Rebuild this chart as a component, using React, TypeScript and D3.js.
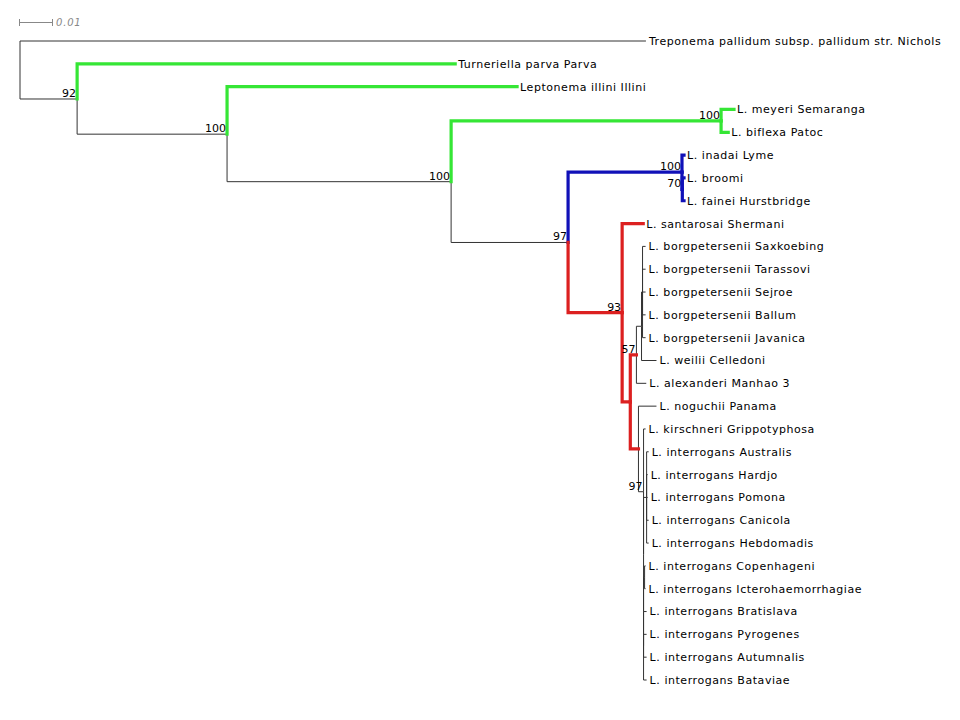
import React from 'react';
import * as d3 from 'd3';

// Leaf order (top to bottom)
const taxa = [
  'Treponema pallidum subsp. pallidum str. Nichols',
  'Turneriella parva Parva',
  'Leptonema illini Illini',
  'L. meyeri Semaranga',
  'L. biflexa Patoc',
  'L. inadai Lyme',
  'L. broomi',
  'L. fainei Hurstbridge',
  'L. santarosai Shermani',
  'L. borgpetersenii Saxkoebing',
  'L. borgpetersenii Tarassovi',
  'L. borgpetersenii Sejroe',
  'L. borgpetersenii Ballum',
  'L. borgpetersenii Javanica',
  'L. weilii Celledoni',
  'L. alexanderi Manhao 3',
  'L. noguchii Panama',
  'L. kirschneri Grippotyphosa',
  'L. interrogans Australis',
  'L. interrogans Hardjo',
  'L. interrogans Pomona',
  'L. interrogans Canicola',
  'L. interrogans Hebdomadis',
  'L. interrogans Copenhageni',
  'L. interrogans Icterohaemorrhagiae',
  'L. interrogans Bratislava',
  'L. interrogans Pyrogenes',
  'L. interrogans Autumnalis',
  'L. interrogans Bataviae',
];

// [node, parent, branch length (substitutions/site)]
const edges: [string, string, number][] = [
  [taxa[0], 'root', 0.1841],
  ['n92', 'root', 0.0168],
  [taxa[1], 'n92', 0.1112],
  ['n100a', 'n92', 0.0441],
  [taxa[2], 'n100a', 0.0853],
  ['n100b', 'n100a', 0.0659],
  ['n100c', 'n100b', 0.0794],
  [taxa[3], 'n100c', 0.0038],
  [taxa[4], 'n100c', 0.0021],
  ['n97a', 'n100b', 0.0344],
  ['n100d', 'n97a', 0.0335],
  [taxa[5], 'n100d', 0.0006],
  ['n70', 'n100d', 0.0001],
  [taxa[6], 'n70', 0.0005],
  [taxa[7], 'n70', 0.0005],
  ['n93', 'n97a', 0.0159],
  [taxa[8], 'n93', 0.0062],
  ['nX', 'n93', 0.0024],
  ['n57', 'nX', 0.0018],
  ['nB', 'n57', 0.0015],
  ['nBp', 'nB', 0.0003],
  [taxa[9], 'nBp', 0.0009],
  [taxa[10], 'nBp', 0.0009],
  [taxa[11], 'nBp', 0.0009],
  [taxa[12], 'nBp', 0.0009],
  [taxa[13], 'nBp', 0.0009],
  [taxa[14], 'nB', 0.0044],
  [taxa[15], 'n57', 0.0029],
  ['nY', 'nX', 0.0024],
  [taxa[16], 'nY', 0.0053],
  ['n97b', 'nY', 0.0015],
  [taxa[17], 'n97b', 0.0006],
  ['nI1', 'n97b', 0],
  ['nA', 'nI1', 0.0009],
  [taxa[18], 'nA', 0.0006],
  [taxa[19], 'nA', 0.0003],
  [taxa[20], 'nA', 0.0003],
  [taxa[21], 'nA', 0.0006],
  [taxa[22], 'nA', 0.0006],
  ['nI2', 'nI1', 0],
  ['nCI', 'nI2', 0.0003],
  [taxa[23], 'nCI', 0.0003],
  [taxa[24], 'nCI', 0.0003],
  ['nI3', 'nI2', 0],
  [taxa[25], 'nI3', 0.0009],
  [taxa[26], 'nI3', 0.0009],
  [taxa[27], 'nI3', 0.0009],
  [taxa[28], 'nI3', 0.0009],
];

// bootstrap support values
const supportNodes = ['n92', 'n100a', 'n100b', 'n100c', 'n97a', 'n100d', 'n70', 'n93', 'n57', 'n97b'];
const supportValues = [92, 100, 100, 100, 97, 100, 70, 93, 57, 97];

// highlighted clades (branch leading to node gets the colour)
const greenNodes = [taxa[1], taxa[2], 'n100c'];
const blueNodes = ['n100d'];
const redNodes = ['n93', taxa[8], 'nX', 'n57', 'nY'];

const scaleBarValue = 0.01;

const GREEN = '#35e635';
const BLUE = '#1010b8';
const RED = '#dc2020';
const BLACK = '#333';

type Row = { id: string; parent: string | null; len: number };

export default function App() {
  const width = 960;
  const height = 720;

  const rows: Row[] = [{ id: 'root', parent: null, len: 0 }, ...edges.map(([id, parent, len]) => ({ id, parent, len }))];
  const root = d3
    .stratify<Row>()
    .id((d) => d.id)
    .parentId((d) => d.parent)(rows) as any;

  const xScale = d3.scaleLinear().domain([0, 0.01]).range([20, 54]);
  const yScale = d3.scalePoint<string>().domain(taxa).range([41, 680]);

  root.eachBefore((n: any) => {
    n.dist = (n.parent ? n.parent.dist : 0) + n.data.len;
  });
  root.eachAfter((n: any) => {
    if (n.children) {
      n.yy = (n.children[0].yy + n.children[n.children.length - 1].yy) / 2;
    } else {
      n.yy = yScale(n.id) as number;
    }
  });

  // propagate clade colours to descendants
  const colorMap = new Map<string, string>();
  root.eachBefore((n: any) => {
    if (greenNodes.includes(n.id)) colorMap.set(n.id, GREEN);
    else if (blueNodes.includes(n.id)) colorMap.set(n.id, BLUE);
    else if (redNodes.includes(n.id)) colorMap.set(n.id, RED);
    else if (n.parent && colorMap.has(n.parent.id) && !redNodes.includes(n.parent.id))
      colorMap.set(n.id, colorMap.get(n.parent.id)!);
  });

  const nodes: any[] = root.descendants().filter((n: any) => n.parent);
  const blackNodes = nodes.filter((n) => !colorMap.has(n.id));
  const colNodes = nodes.filter((n) => colorMap.has(n.id));

  const branchPath = (n: any) => {
    const px = xScale(n.parent.dist);
    const py = n.parent.yy;
    const x = xScale(n.dist);
    const y = n.yy;
    return `M${px},${py}V${y}H${x}`;
  };

  const supportMap = new Map<string, number>();
  supportNodes.forEach((id, i) => supportMap.set(id, supportValues[i]));

  const font = '"DejaVu Sans", Verdana, sans-serif';

  return (
    <svg
      width={width}
      height={height}
      style={{ position: 'absolute', left: 0, top: 0, background: '#fff' }}
      fontFamily={font}
    >
      <rect width={width} height={height} fill="#fff" />
      {/* scale bar */}
      <g stroke="#888" strokeWidth={1}>
        <line x1={xScale(0) - 1} x2={xScale(scaleBarValue) - 1} y1={22.5} y2={22.5} />
        <line x1={xScale(0) - 0.5} x2={xScale(0) - 0.5} y1={19} y2={26} />
        <line x1={xScale(scaleBarValue) - 1.5} x2={xScale(scaleBarValue) - 1.5} y1={19} y2={26} />
      </g>
      <text x={xScale(scaleBarValue) + 2} y={26} fontSize={10} fill="#888" fontStyle="italic" letterSpacing={0.8}>
        {String(scaleBarValue)}
      </text>

      {/* branches */}
      <g fill="none" stroke={BLACK} strokeWidth={1}>
        {blackNodes.map((n) => (
          <path key={n.id} d={branchPath(n)} />
        ))}
      </g>
      <g fill="none" strokeWidth={3.2}>
        {colNodes.map((n) => (
          <path key={n.id} d={branchPath(n)} stroke={colorMap.get(n.id)} strokeLinecap="square" strokeLinejoin="miter" />
        ))}
      </g>

      {/* leaf labels */}
      <g fontSize={11} fill="#000" letterSpacing={0.55}>
        {root.leaves().map((n: any) => (
          <text key={n.id} x={xScale(n.dist) + 3} y={n.yy} dy="0.36em">
            {n.id}
          </text>
        ))}
      </g>

      {/* support values */}
      <g fontSize={11} fill="#000" textAnchor="end">
        {root
          .descendants()
          .filter((n: any) => supportMap.has(n.id))
          .map((n: any) => (
            <text key={n.id} x={xScale(n.dist) - 1} y={n.yy - 2}>
              {supportMap.get(n.id)}
            </text>
          ))}
      </g>
    </svg>
  );
}
